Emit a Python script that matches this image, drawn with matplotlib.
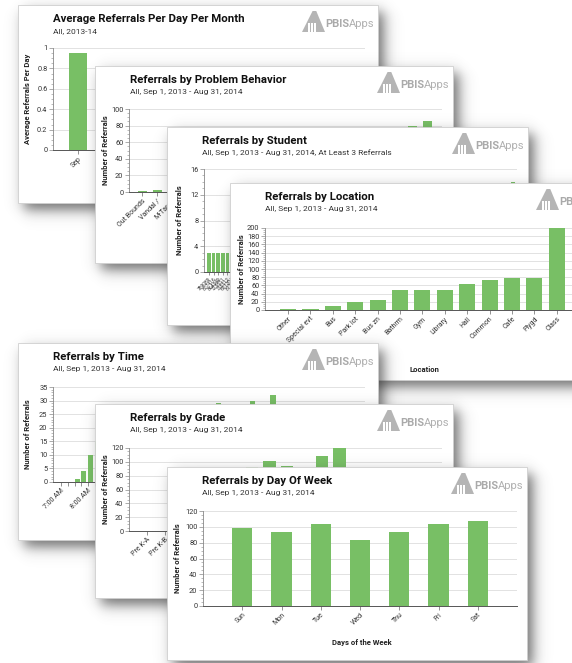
import numpy as np
import matplotlib
matplotlib.use("Agg")
import matplotlib.pyplot as plt
from matplotlib.patches import Rectangle, Polygon
from matplotlib.ticker import MultipleLocator, FuncFormatter
from matplotlib import font_manager

W, H = 572, 663

installed = {f.name for f in font_manager.fontManager.ttflist}
FONT = 'Liberation Sans Narrow' if 'Liberation Sans Narrow' in installed else 'Roboto'
plt.rcParams['font.family'] = [FONT, 'DejaVu Sans']

GREEN = '#78bf65'
PERIOD = 'All, Sep 1, 2013 - Aug 31, 2014'

# --- data ---
months = ['Sep', 'Oct', 'Nov', 'Dec', 'Jan', 'Feb', 'Mar', 'Apr', 'May', 'Jun']
avg_per_day = [0.95, 0.62, 0.71, 0.55, 0.66, 0.74, 0.69, 0.58, 0.63, 0.40]

behaviors = ['Out Bounds', 'Vandal /', 'M-Tardy', 'Skip', 'Forge/Theft', 'Prop misuse',
             'Bomb', 'Tech', 'M-Contact', 'Lying', 'Dress', 'Tobacco', 'M-Inapp lan',
             'Harass', 'M-Disrespt', 'Fight', 'Inapp lan', 'Disrespt', 'Defiance', 'Disruptn']
behavior_counts = [1, 2, 2, 3, 4, 5, 6, 8, 10, 12, 14, 17, 20, 24, 30, 38, 47, 60, 80, 86]

student_ids = ['789089', '807416', '864349', '723851', '735512', '691204', '812337', '776045', '845120', '702983',
               '758816', '823409', '690572', '741268', '867731', '715094', '798652', '832275', '706648', '754390',
               '881217', '729563', '793081', '816744', '747925', '860318', '712456', '785539', '839902', '764187',
               '698340', '826571', '751806', '873049', '719632', '804215', '767493', '851386', '733170', '796824',
               '842657', '710938', '781205', '857412', '726384', '818059', '744961', '869723', '703517', '790642',
               '835288', '761074', '848196', '716853', '799430', '827615', '739207', '863942', '708761', '772358',
               '854029', '724686', '810973', '749512', '878304', '731845', '846270']
student_counts = [3, 3, 3, 3, 3, 3, 3, 3, 3, 3,
                  3, 3, 3, 3, 3, 3, 3, 3, 3, 3,
                  3, 3, 3, 3, 3, 3, 3, 3, 3, 3,
                  4, 4, 4, 4, 4, 4, 4, 4, 4, 4,
                  4, 4, 5, 5, 5, 5, 5, 5, 5, 5,
                  6, 6, 6, 6, 6, 7, 7, 7, 7, 8,
                  8, 8, 9, 9, 11, 12, 14]

locations = ['Other', 'Special evt', 'Bus', 'Park lot', 'Bus zn', 'Bathrm', 'Gym', 'Library',
             'Hall', 'Common', 'Cafe', 'Plygd', 'Class']
location_counts = [2, 2, 10, 20, 24, 48, 48, 48, 63, 73, 79, 79, 200]

times = ['7:00 AM', '7:15 AM', '7:30 AM', '7:45 AM', '8:00 AM', '8:15 AM', '8:30 AM', '8:45 AM',
         '9:00 AM', '9:15 AM', '9:30 AM', '9:45 AM', '10:00 AM', '10:15 AM', '10:30 AM', '10:45 AM',
         '11:00 AM', '11:15 AM', '11:30 AM', '11:45 AM', '12:00 PM', '12:15 PM', '12:30 PM', '12:45 PM',
         '1:00 PM', '1:15 PM', '1:30 PM', '1:45 PM', '2:00 PM', '2:15 PM', '2:30 PM', '2:45 PM',
         '3:00 PM', '3:15 PM', '3:30 PM', '3:45 PM', '4:00 PM', '4:15 PM', '4:30 PM', '4:45 PM',
         '5:00 PM', '5:15 PM', '5:30 PM', '5:45 PM']
time_counts = [0, 0, 1, 4, 10, 15, 18, 21, 23, 20, 22, 25, 21, 24, 26, 22,
               19, 23, 27, 26, 24, 21, 25, 29, 24, 23, 26, 27, 30, 25, 22, 32,
               17, 9, 5, 3, 2, 1, 1, 0, 0, 0, 0, 0]

grades = ['Pre K-A', 'Pre K-B', 'K', '1', '2', '3', '4', '5', '6', '7', '8', '9', '10', '11', '12']
grade_counts = [0, 0, 35, 58, 72, 84, 93, 101, 94, 86, 108, 120, 78, 65, 52]

days = ['Sun', 'Mon', 'Tue', 'Wed', 'Thu', 'Fri', 'Sat']
day_counts = [98, 94, 103, 83, 94, 103, 108]

fig = plt.figure(figsize=(W / 100, H / 100), dpi=100)
fig.patch.set_facecolor('white')


def fx(x):
    return x / W


def fy(y):
    return 1 - y / H


def px_axes(x0, y0, x1, y1, z):
    return fig.add_axes([fx(x0), fy(y1), (x1 - x0) / W, (y1 - y0) / H], zorder=z)


def shadow(box, z, dx=6, dy=7, soft=4.0, peak=0.7):
    # soft drop shadow under a card, drawn as an RGBA image over the whole figure
    x0, y0, x1, y1 = box
    xs = np.arange(W) + 0.5
    ys = np.arange(H) + 0.5
    step = lambda t: 1 / (1 + np.exp(-t / soft))
    gx = step(xs - (x0 + dx)) - step(xs - (x1 + dx))
    gy = step(ys - (y0 + dy)) - step(ys - (y1 + dy))
    rgba = np.zeros((H, W, 4))
    rgba[..., :3] = 0.2
    rgba[..., 3] = np.outer(gy, gx) * peak
    ax = fig.add_axes([0, 0, 1, 1], zorder=z)
    ax.imshow(rgba, extent=(0, W, H, 0), aspect='auto', interpolation='bilinear')
    ax.set_xlim(0, W)
    ax.set_ylim(H, 0)
    ax.axis('off')


def logo(x_right, y_top, z):
    ix, iy, iw, ih = x_right - 76, y_top + 6, 23, 21
    tri = [(ix, iy + ih), (ix + iw * 0.46, iy), (ix + iw * 0.62, iy), (ix + iw, iy + ih)]
    fig.add_artist(Polygon([(fx(a), fy(b)) for a, b in tri], closed=True,
                           transform=fig.transFigure, fc='#b5b5b5', ec='none', zorder=z))
    for sx in (0.26, 0.40, 0.54):
        fig.add_artist(Rectangle((fx(ix + iw * sx), fy(iy + ih)), 1.6 / W, 9 / H,
                                 transform=fig.transFigure, fc='white', ec='none', zorder=z))
    t = fig.text(fx(x_right - 53), fy(y_top + 22), 'PBIS', fontsize=8, weight='bold',
                 color='#aaaaaa', va='baseline', zorder=z)
    ext = t.get_window_extent(renderer=fig.canvas.get_renderer())
    fig.text(fx(x_right - 53 + ext.width), fy(y_top + 22), 'Apps', fontsize=8,
             color='#b0b0b0', va='baseline', zorder=z)


def card(k, box, title, subtitle):
    z = 10 * k
    x0, y0, x1, y1 = box
    shadow(box, z)
    fig.add_artist(Rectangle((fx(x0), fy(y1)), (x1 - x0) / W, (y1 - y0) / H,
                             transform=fig.transFigure, fc='white', ec='#cfcfcf',
                             lw=0.6, zorder=z + 1))
    fig.text(fx(x0 + 35), fy(y0 + 17), title, fontsize=8.2, weight='bold',
             color='#111111', va='baseline', zorder=z + 3)
    fig.text(fx(x0 + 35), fy(y0 + 28), subtitle, fontsize=6, color='#333333',
             va='baseline', zorder=z + 3)
    logo(x1, y0, z + 3)


def chart(k, rect, ylab_x, ylabel, ymax, major, minor, xlim):
    ax = px_axes(*rect, 10 * k + 2)
    ax.set_facecolor('none')
    ax.set_ylim(0, ymax)
    ax.set_xlim(*xlim)
    ax.yaxis.set_major_locator(MultipleLocator(major))
    ax.yaxis.set_minor_locator(MultipleLocator(minor))
    ax.yaxis.set_major_formatter(FuncFormatter(lambda v, p: '%g' % v))
    ax.grid(axis='y', which='major', color='#dddddd', lw=0.6)
    ax.set_axisbelow(True)
    for s in ('top', 'right'):
        ax.spines[s].set_visible(False)
    ax.spines['left'].set_color('#888888')
    ax.spines['left'].set_linewidth(0.6)
    ax.spines['bottom'].set_color('#555555')
    ax.spines['bottom'].set_linewidth(0.7)
    ax.tick_params(axis='y', which='major', length=3, width=0.5, color='#888888',
                   labelsize=5.3, labelcolor='#333333', pad=1)
    ax.tick_params(axis='y', which='minor', length=1.5, width=0.4, color='#888888')
    ax.tick_params(axis='x', length=3, width=0.5, color='#666666', labelsize=5,
                   labelcolor='#333333', pad=1)
    x0, y0, x1, y1 = rect
    fig.text(fx(ylab_x), fy((y0 + y1) / 2), ylabel, rotation=90, ha='center', va='center',
             fontsize=5.5, weight='bold', color='#222222', zorder=10 * k + 3)
    return ax


def xlabels(ax, labels, size=5):
    ax.set_xticks(range(len(labels)))
    ax.set_xticklabels(labels, rotation=45, ha='right', rotation_mode='anchor', fontsize=size)


# 1: average referrals per day
card(1, (18, 5, 378, 203), 'Average Referrals Per Day Per Month', 'All, 2013-14')
ax = chart(1, (53, 48, 365, 150), 28, 'Average Referrals Per Day', 1, 0.2, 0.05, (-0.8, 9.2))
ax.bar(range(len(months)), avg_per_day, width=0.6, color=GREEN)
xlabels(ax, months)

# 2: problem behavior
card(2, (95, 66, 453, 263), 'Referrals by Problem Behavior', PERIOD)
ax = chart(2, (129, 109, 442, 192), 105, 'Number of Referrals', 100, 20, 5, (-0.87, 20.0))
ax.bar(range(len(behaviors)), behavior_counts, width=0.6, color=GREEN)
xlabels(ax, behaviors)

# 3: student
card(3, (167, 127, 528, 325), 'Referrals by Student', PERIOD + ', At Least 3 Referrals')
ax = chart(3, (204, 169, 517, 272), 180, 'Number of Referrals', 16, 4, 1, (-1.09, 66.9))
ax.bar(range(len(student_ids)), student_counts, width=0.8, color=GREEN)
xlabels(ax, student_ids, size=3.6)
ax.tick_params(axis='x', length=2)

# 4: location
card(4, (230, 183, 612, 380), 'Referrals by Location', PERIOD)
ax = chart(4, (265, 228, 600, 310), 242, 'Number of Referrals', 200, 20, 5, (-1.03, 13.93))
ax.bar(range(len(locations)), location_counts, width=0.72, color=GREEN)
xlabels(ax, locations)
fig.text(fx(424), fy(369), 'Location', ha='center', va='center', fontsize=5.5,
         weight='bold', color='#222222', zorder=43)

# 5: time of day
card(5, (18, 343, 378, 540), 'Referrals by Time', PERIOD)
ax = chart(5, (53, 387, 365, 482), 28, 'Number of Referrals', 35, 5, 1, (-1.19, 45.0))
ax.bar(range(len(times)), time_counts, width=0.75, align='edge', color=GREEN)
xlabels(ax, [t if ':00' in t else '' for t in times])

# 6: grade
card(6, (95, 404, 453, 598), 'Referrals by Grade', PERIOD)
ax = chart(6, (129, 448, 442, 531), 105, 'Number of Referrals', 120, 20, 5, (-1.03, 16.86))
ax.bar(range(len(grades)), grade_counts, width=0.7, color=GREEN)
xlabels(ax, grades)

# 7: day of week
card(7, (167, 467, 527, 660), 'Referrals by Day Of Week', PERIOD)
ax = chart(7, (203, 511, 517, 606), 177, 'Number of Referrals', 120, 20, 5, (-1.0, 7.0))
ax.bar(range(len(days)), day_counts, width=0.52, color=GREEN)
xlabels(ax, days)
fig.text(fx(362), fy(643), 'Days of the Week', ha='center', va='center', fontsize=5.5,
         weight='bold', color='#222222', zorder=73)

fig.savefig('out.png', dpi=100)
